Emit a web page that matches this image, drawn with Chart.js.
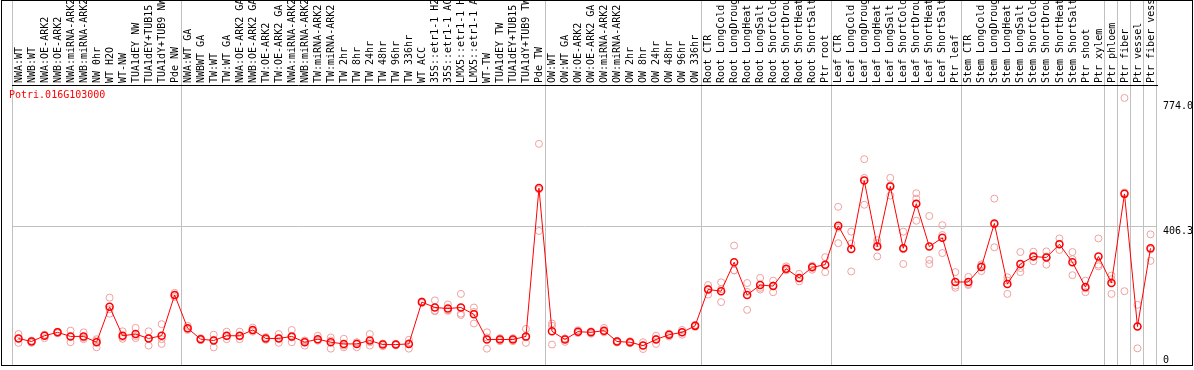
<!DOCTYPE html>
<html>
<head>
<meta charset="utf-8">
<title>Potri.016G103000</title>
<script src="https://cdn.jsdelivr.net/npm/chart.js@4.4.0/dist/chart.umd.min.js"></script>
<style>
    html, body { margin: 0; padding: 0; background: #fff; }
    #wrap { position: relative; width: 1194px; height: 370px; }
</style>
</head>
<body>
<div id="wrap"><canvas id="chart"></canvas></div>
<script>
// --- data ---
const geneId = 'Potri.016G103000';

const categories = [
    'NWA:WT', 'NWB:WT', 'NWA:OE-ARK2', 'NWB:OE-ARK2', 'NWA:miRNA-ARK2', 'NWB:miRNA-ARK2',
    'NW 0hr', 'WT H2O', 'WT-NW', 'TUA1dEY NW', 'TUA1dEY+TUB15 NW', 'TUA1dY+TUB9 NW', 'Pde NW',
    'NWA:WT GA', 'NWBWT GA', 'TW:WT', 'TW:WT GA', 'NWA:OE-ARK2 GA', 'NWB:OE-ARK2 GA',
    'TW:OE-ARK2', 'TW:OE-ARK2 GA', 'NWA:miRNA-ARK2 GA', 'NWB:miRNA-ARK2 GA', 'TW:miRNA-ARK2',
    'TW:miRNA-ARK2 GA', 'TW 2hr', 'TW 8hr', 'TW 24hr', 'TW 48hr', 'TW 96hr', 'TW 336hr',
    'WT ACC', '35S::etr1-1 H2O', '35S::etr1-1 ACC', 'LMX5::etr1-1 H2O', 'LMX5::etr1-1 ACC',
    'WT-TW', 'TUA1dEY TW', 'TUA1dEY+TUB15 TW', 'TUA1dY+TUB9 TW', 'Pde TW',
    'OW:WT', 'OW:WT GA', 'OW:OE-ARK2', 'OW:OE-ARK2 GA', 'OW:miRNA-ARK2', 'OW:miRNA-ARK2 GA',
    'OW 2hr', 'OW 8hr', 'OW 24hr', 'OW 48hr', 'OW 96hr', 'OW 336hr',
    'Root CTR', 'Root LongCold', 'Root LongDrought', 'Root LongHeat', 'Root LongSalt',
    'Root ShortCold', 'Root ShortDrought', 'Root ShortHeat', 'Root ShortSalt', 'Ptr root',
    'Leaf CTR', 'Leaf LongCold', 'Leaf LongDrought', 'Leaf LongHeat', 'Leaf LongSalt',
    'Leaf ShortCold', 'Leaf ShortDrought', 'Leaf ShortHeat', 'Leaf ShortSalt', 'Ptr leaf',
    'Stem CTR', 'Stem LongCold', 'Stem LongDrought', 'Stem LongHeat', 'Stem LongSalt',
    'Stem ShortCold', 'Stem ShortDrought', 'Stem ShortHeat', 'Stem ShortSalt', 'Ptr shoot',
    'Ptr xylem', 'Ptr phloem', 'Ptr fiber', 'Ptr vessel', 'Ptr fiber vessel'
];

// mean expression per sample (red line)
const meanValues = [
    78, 69, 86, 96, 84, 84, 67, 171, 86, 91, 78, 86, 206,
    108, 76, 72, 86, 86, 103, 78, 78, 84, 67, 76, 67, 62, 62, 72, 60, 60, 62,
    185, 169, 166, 169, 149, 75, 75, 75, 84, 520,
    99, 75, 98, 96, 101, 69, 67, 57, 75, 89, 96, 115,
    222, 217, 302, 206, 235, 232, 283, 256, 287, 295,
    409, 341, 542, 348, 525, 343, 474, 348, 374, 244,
    244, 288, 416, 238, 297, 319, 316, 355, 302, 229, 319,
    241, 503, 113, 343
];

// individual replicates (pale circles)
const repHigh = [
    91, 72, 89, 97, 101, 96, 76, 198, 99, 109, 99, 120, 212,
    115, 79, 89, 98, 98, 110, 82, 91, 103, 71, 86, 81, 77, 67, 91, 63, 62, 74,
    187, 190, 178, 209, 169, 96, 79, 79, 106, 650,
    122, 78, 102, 99, 109, 71, 70, 67, 86, 92, 103, 118,
    235, 243, 351, 241, 256, 248, 290, 268, 292, 317,
    465, 392, 605, 367, 550, 392, 505, 438, 411, 273,
    259, 296, 489, 258, 332, 333, 334, 372, 332, 248, 372,
    263, 785, 177, 384
];
const repLow = [
    65, 65, 79, 93, 67, 76, 52, 151, 77, 79, 57, 62, 200,
    103, 73, 52, 76, 76, 98, 74, 65, 67, 57, 72, 48, 52, 52, 57, 55, 58, 48,
    182, 158, 159, 151, 122, 48, 70, 70, 65, 394,
    60, 68, 94, 92, 96, 66, 64, 47, 62, 84, 89, 112,
    207, 185, 278, 162, 222, 214, 278, 246, 280, 273,
    358, 275, 471, 319, 498, 297, 424, 309, 329, 227,
    235, 276, 346, 209, 273, 305, 295, 338, 264, 214, 290,
    209, 217, 49, 306
];
const repMid = [
    78, 70, 88, 98, 84, 80, 72, 164, 82, 85, 79, 76, 205,
    106, 77, 74, 84, 84, 101, 79, 79, 81, 72, 72, 72, 57, 66, 67, 62, 60, 64,
    185, 160, 161, 147, 156, 81, 76, 76, 81, 516,
    115, 78, 98, 97, 98, 70, 67, 57, 77, 91, 96, 115,
    224, 223, 278, 215, 227, 234, 281, 254, 289, 294,
    404, 357, 550, 358, 528, 340, 489, 297, 382, 233,
    238, 292, 413, 248, 285, 319, 319, 355, 311, 225, 295,
    252, 507, 114, 339
];

// first sample index of each sample group (grey separators)
const groupStarts = [0, 13, 41, 53, 63, 73, 84, 85, 86, 87];

const yTickValues = [0, 406.3, 774.0];
const yMax = 823;

// --- styling ---
const FONT = { family: "'DejaVu Sans Mono', monospace", size: 10, lineHeight: 1 };
const SEP_COLOR = '#c0c0c0';
const NONE = 'rgba(0,0,0,0)';

/**
 * Outer frame and the gene id in the top-left corner of the plot
 */
const framePlugin = {
    id: 'frame',
    afterDraw(chart) {
        const ctx = chart.ctx;
        const area = chart.chartArea;
        ctx.save();
        ctx.strokeStyle = '#000';
        ctx.lineWidth = 1;
        ctx.strokeRect(1.5, 0.5, chart.width - 3, area.bottom);
        ctx.fillStyle = '#ff0000';
        ctx.font = "10px 'DejaVu Sans Mono', monospace";
        ctx.textBaseline = 'top';
        ctx.fillText(geneId, 9, area.top + 5);
        ctx.restore();
    }
};

const pointStyle = (color, width) => ({
    showLine: false,
    pointRadius: 3.5,
    pointHoverRadius: 3.5,
    pointBorderWidth: width,
    pointBorderColor: color,
    pointBackgroundColor: NONE
});

const replicateSets = [repHigh, repLow, repMid].map((data, i) => ({
    label: 'rep' + (i + 1),
    data,
    order: 1,
    ...pointStyle('#f0a0a0', 1)
}));

new Chart(document.getElementById('chart'), {
    type: 'line',
    data: {
        labels: categories,
        datasets: [
            {
                label: 'mean',
                data: meanValues,
                order: 0,
                ...pointStyle('#ff0000', 1.5),
                showLine: true,
                borderColor: '#ff0000',
                borderWidth: 1,
                tension: 0
            },
            ...replicateSets
        ]
    },
    options: {
        responsive: true,
        maintainAspectRatio: false,
        devicePixelRatio: 1,
        animation: false,
        layout: { padding: { left: 12, right: 0, top: 0, bottom: 2 } },
        plugins: {
            legend: { display: false },
            tooltip: { enabled: false }
        },
        scales: {
            x: {
                type: 'category',
                position: 'top',
                offset: true,
                grid: {
                    offset: true,
                    tickLength: 85,
                    lineWidth: 1,
                    color: ctx => (ctx.index === undefined || groupStarts.includes(ctx.index)) ? SEP_COLOR : NONE
                },
                border: { display: true, color: '#000', width: 1 },
                ticks: {
                    autoSkip: false,
                    minRotation: 90,
                    maxRotation: 90,
                    padding: -83,
                    labelOffset: 10.5,
                    color: '#000',
                    font: FONT
                },
                afterFit(scale) {
                    scale.height = 85;
                    scale.paddingLeft = 0;
                    scale.paddingRight = 0;
                }
            },
            y: {
                position: 'right',
                min: 0,
                max: yMax,
                afterBuildTicks(scale) {
                    scale.ticks = yTickValues.map(v => ({ value: v }));
                },
                grid: {
                    drawTicks: false,
                    color: ctx => (ctx.tick && ctx.tick.value === 406.3) ? SEP_COLOR : NONE
                },
                border: { display: false },
                ticks: {
                    padding: 6,
                    color: '#000',
                    font: FONT,
                    callback: v => v === 0 ? ['0', ''] : ['', v.toFixed(1)]
                },
                afterFit(scale) {
                    scale.width = 37;
                    scale.paddingTop = 0;
                    scale.paddingBottom = 0;
                }
            }
        }
    },
    plugins: [framePlugin]
});
</script>
</body>
</html>
